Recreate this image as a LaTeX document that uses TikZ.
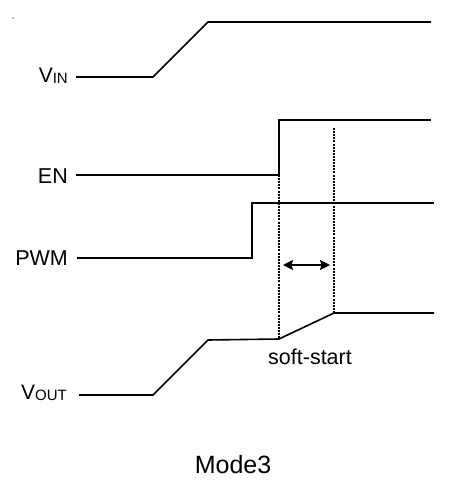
\documentclass[tikz,border=0pt]{standalone}
\usepackage{fontspec}
\setmainfont{Liberation Sans}
\usetikzlibrary{arrows.meta,positioning}
\tikzset{
  wf text/.style={font=\fontsize{21.5}{25}\selectfont, text=black},
  wf label/.style={wf text, anchor=east, inner sep=0pt},
  wf line/.style={draw=black, line width=1.6pt, line join=miter},
  wf dots/.style={draw=black, line width=2.4pt, dash pattern=on 2pt off 1.1pt},
  wf arrow/.style={{Stealth[length=10pt,width=10pt,inset=1.5pt]}-{Stealth[length=10pt,width=10pt,inset=1.5pt]},
    line width=1.3pt, draw=black}
}
\newcommand{\sig}[2]{{\fontsize{21}{24}\selectfont #1}\raisebox{-1.5pt}{\fontsize{15}{18}\selectfont #2}}

\begin{document}
\begin{tikzpicture}[x=1pt, y=-1pt]
  \useasboundingbox (0,0) rectangle (454,480);
  \fill (13,18) circle (0.6);
  % signal names
  \node[wf label] (vin) at (68,76) {\sig{V}{IN}};
  \node[wf label] (en) at (68,176) {EN};
  \node[wf label] (pwm) at (68,258) {PWM};
  \node[wf label] (vout) at (67,393) {\sig{V}{OUT}};
  % time marks
  \coordinate (enup) at (279,175);
  \coordinate (ssend) at (334,313);
  \coordinate (ssbot) at (279,339);
  % waveforms
  \draw[wf line] (76,77) -- (153,77) -- (208,22) -- (431,22);
  \draw[wf line] (76,175) -- (enup) -- (279,120) -- (431,120);
  \draw[wf line] (77,258) -- (252,258) -- (252,203) -- (434,203);
  \draw[wf line] (79,395) -- (153,395) -- (208,340) -- (ssbot) -- (ssend) -- (434,313);
  % soft-start window
  \draw[wf dots] (enup) -- (ssbot);
  \draw[wf dots] (334,128) -- (ssend);
  \coordinate (ssl) at (283,265);
  \coordinate (ssr) at (330,265);
  \draw[wf arrow] (ssl) -- (ssr);
  \node[wf text] (ss) at (310,357) {soft-start};
  \node[wf text, font=\fontsize{25}{29}\selectfont] (mode) at (233,465) {Mode3};
\end{tikzpicture}
\end{document}
